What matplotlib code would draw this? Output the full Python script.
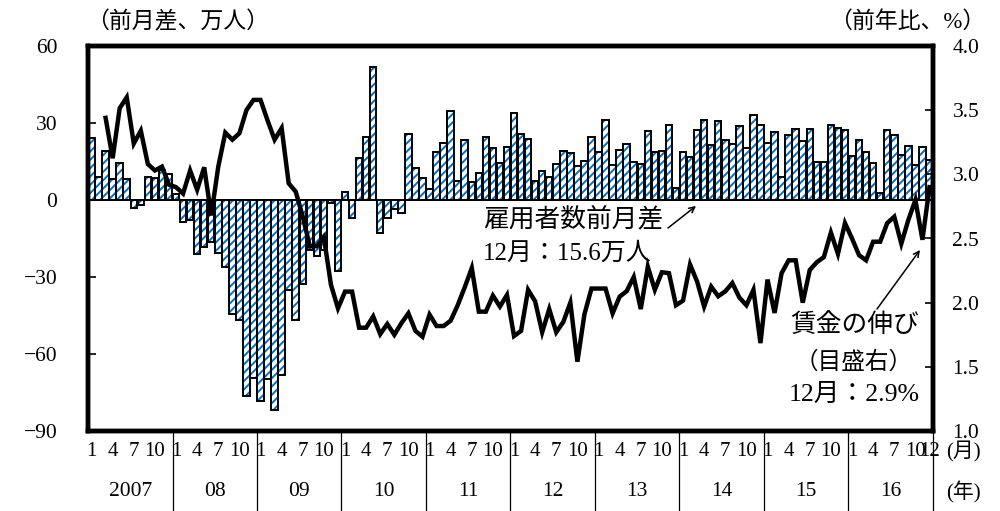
import numpy as np
import matplotlib
matplotlib.use('Agg')
import matplotlib.pyplot as plt
from matplotlib.transforms import blended_transform_factory
from matplotlib.ticker import FormatStrFormatter

# Employees, month-on-month change (10k persons), Jan 2007 - Dec 2016
employment_change = [
    24, 9, 19, 8, 14.5, 8, -3, -2, 9, 8.5, 11.5, 10,                          # 2007
    2.3, -8.4, -7.8, -21, -18.4, -16.2, -20.7, -26.1, -44.6, -46.8, -76.3, -69.2,  # 2008
    -78.5, -69.8, -81.7, -68.1, -34.9, -46.6, -32.7, -19.5, -22, -19.4, -1, -27.5,  # 2009
    3, -7, 16.5, 24.6, 52, -13, -7, -3.5, -5, 25.6, 12.3, 8.7,                 # 2010
    4.3, 18.8, 22.4, 34.7, 7.4, 23.5, 7.1, 10.7, 24.7, 20.3, 14.6, 20.7,       # 2011
    34, 25.7, 23.9, 7.5, 11.4, 8.9, 14.2, 19, 18.2, 13.2, 15, 24.4,            # 2012
    18.8, 31.3, 13.7, 19.3, 22, 14.7, 14.1, 27, 18.6, 19.1, 29.1, 4.6,         # 2013
    18.8, 16.8, 27.3, 31, 21.6, 30.7, 23.3, 22, 28.7, 20.1, 33, 29.1,          # 2014
    22.4, 26.5, 8.8, 25.2, 27.5, 23, 27.8, 14.9, 14.9, 29.4, 28.1, 27.4,       # 2015
    17.1, 23.3, 18.8, 14.5, 2.9, 27.4, 25.2, 17.7, 21.1, 13.6, 20.7, 15.6,     # 2016
]

# Wage growth (y/y %, right axis)
wage_growth = [
    np.nan, np.nan, 3.44, 3.125, 3.515, 3.60, 3.24, 3.34, 3.08, 3.03, 3.06, 2.92,
    2.90, 2.85, 3.03, 2.88, 3.055, 2.68, 3.06, 3.325, 3.27, 3.32, 3.50, 3.58,
    3.58, 3.42, 3.27, 3.36, 2.93, 2.865, 2.67, 2.44, 2.44, 2.51, 2.14, 1.956,
    2.086, 2.086, 1.805, 1.805, 1.893, 1.755, 1.834, 1.75, 1.84, 1.917, 1.78, 1.735,
    1.907, 1.818, 1.818, 1.86, 1.98, 2.12, 2.27, 1.93, 1.93, 2.055, 1.97, 2.06,
    1.74, 1.78, 2.10, 2.01, 1.77, 1.95, 1.77, 1.85, 2.00, 1.54, 1.91, 2.11,
    2.11, 2.11, 1.917, 2.047, 2.09, 2.20, 1.95, 2.28, 2.10, 2.237, 2.23, 1.98,
    2.016, 2.297, 2.165, 1.97, 2.125, 2.05, 2.088, 2.153, 2.04, 1.98, 2.10, 1.685,
    2.18, 1.92, 2.23, 2.33, 2.33, 2.0, 2.255, 2.315, 2.355, 2.546, 2.38, 2.62,
    2.50, 2.37, 2.33, 2.475, 2.475, 2.62, 2.67, 2.46, 2.645, 2.80, 2.49, 2.9,
]

year_labels = ['2007', '08', '09', '10', '11', '12', '13', '14', '15', '16']
month_marks = [1, 4, 7, 10]
left_ticks = [-90, -60, -30, 0, 30, 60]
right_ticks = [1.0, 1.5, 2.0, 2.5, 3.0, 3.5, 4.0]

plt.rcParams['font.family'] = ['Liberation Serif', 'Noto Sans CJK JP']
plt.rcParams['hatch.linewidth'] = 1.4
plt.rcParams['axes.unicode_minus'] = True

W, H = 1000, 511
fig = plt.figure(figsize=(W / 100, H / 100), dpi=100)
ax = fig.add_axes([88 / W, 1 - 431 / H, 845 / W, 385 / H])

n = len(employment_change)
x = np.arange(1, n + 1)
ax.bar(x, employment_change, width=0.92, color='white', edgecolor='#0070C0',
       hatch='////', linewidth=0, zorder=2)
ax.bar(x, employment_change, width=0.92, color='none', edgecolor='black',
       linewidth=1.4, zorder=3)
ax.axhline(0, color='black', lw=1.4, zorder=4)

ax.set_xlim(0.5, n + 0.5)
ax.set_ylim(-90, 60)
ax.set_yticks(left_ticks)
ax.tick_params(axis='y', direction='in', length=6, width=1.2, pad=22, labelsize=15.5)
for s in ax.spines.values():
    s.set_linewidth(3.2)

# month tick labels
mt_pos, mt_lab = [], []
for k in range(len(year_labels)):
    for m in month_marks:
        mt_pos.append(12 * k + m)
        mt_lab.append(str(m))
mt_pos.append(n)
mt_lab.append('12')
ax.set_xticks(mt_pos)
ax.set_xticklabels(mt_lab)
ax.tick_params(axis='x', length=0, pad=8, labelsize=15)

trans = blended_transform_factory(ax.transData, ax.transAxes)
for k, yl in enumerate(year_labels):
    ax.text(12 * k + 6.5, -0.158, yl, transform=trans, ha='center', va='center',
            fontsize=15.5)
for k in range(1, len(year_labels) + 1):
    ax.plot([12 * k + 0.5] * 2, [0, -0.22], transform=trans, clip_on=False,
            color='black', lw=0.9)

ax2 = ax.twinx()
ax2.plot(x, wage_growth, color='black', lw=3.2, zorder=5, solid_joinstyle='miter')
ax2.set_ylim(1.0, 4.0)
ax2.set_yticks(right_ticks)
ax2.yaxis.set_major_formatter(FormatStrFormatter('%.1f'))
ax2.tick_params(axis='y', direction='in', length=6, width=1.2, pad=14, labelsize=15.5)
for s in ax2.spines.values():
    s.set_linewidth(3.2)

def fy(y):
    return 1 - y / H

fig.text(86 / W, fy(22), '（前月差、万人）', ha='left', va='center', fontsize=16.5)
fig.text(985 / W, fy(22), '（前年比、%）', ha='right', va='center', fontsize=16.5)
fig.text(963 / W, fy(452), '(月)', ha='center', va='center', fontsize=15)
fig.text(963 / W, fy(492), '(年)', ha='center', va='center', fontsize=15)

fig.text(483 / W, fy(219), '雇用者数前月差', ha='left', va='center', fontsize=18.5)
fig.text(483 / W, fy(254), '12月：15.6万人', ha='left', va='center', fontsize=18)
ax.annotate('', xy=(696, H - 206), xytext=(668, H - 228), xycoords='figure pixels',
            textcoords='figure pixels',
            arrowprops=dict(arrowstyle='->', lw=1.1, color='black', shrinkA=0, shrinkB=0))

fig.text(855 / W, fy(326), '賃金の伸び', ha='center', va='center', fontsize=18.5)
fig.text(854 / W, fy(362), '（目盛右）', ha='center', va='center', fontsize=17)
fig.text(854 / W, fy(395), '12月：2.9%', ha='center', va='center', fontsize=18.5)
ax.annotate('', xy=(920, H - 250), xytext=(877, H - 309), xycoords='figure pixels',
            textcoords='figure pixels',
            arrowprops=dict(arrowstyle='->', lw=1.1, color='black', shrinkA=0, shrinkB=0))

fig.savefig('out.png', dpi=100)
